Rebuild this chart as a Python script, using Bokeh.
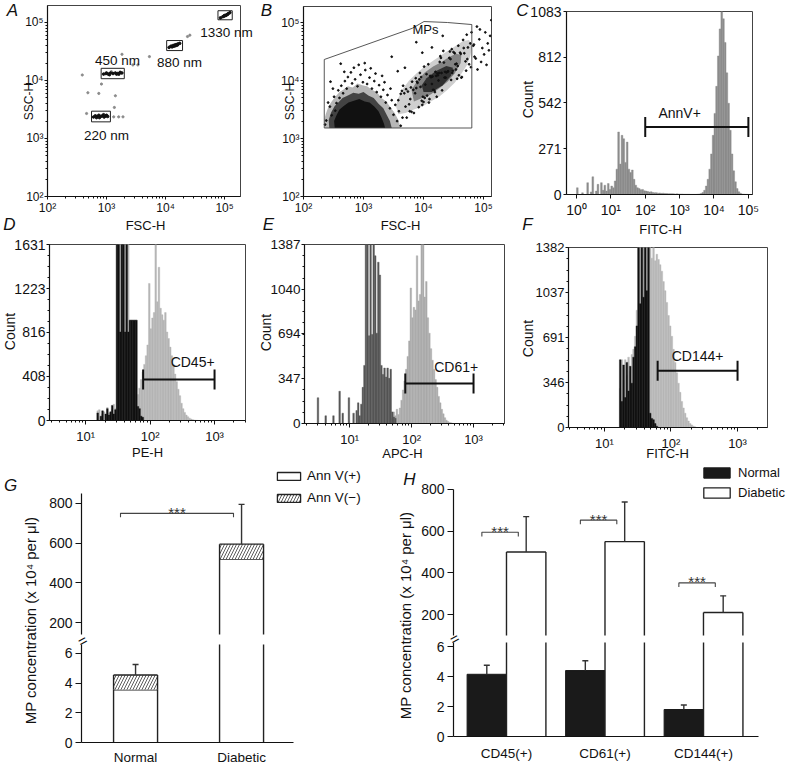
import math
import numpy as np
from bokeh.plotting import figure
from bokeh.models import Range1d, FixedTicker, Label, Legend
from bokeh.layouts import row, column
from bokeh.embed import file_html
from bokeh.resources import INLINE
from bokeh.core.properties import value

FONT = "Liberation Sans"

# ===================== DATA =====================
# --- A: calibration beads (log10 FSC-H, log10 SSC-H)
a_bead_names = ["220 nm", "450 nm", "880 nm", "1330 nm"]
a_gate_fsc = [(2.746, 3.066), (2.909, 3.301), (4.019, 4.288), (4.888, 5.130)]
a_gate_ssc = [(3.287, 3.471), (4.031, 4.210), (4.516, 4.689), (5.047, 5.203)]
a_bead_fsc = [2.78, 2.81, 2.84, 2.87, 2.90, 2.93, 2.96, 2.99, 3.02, 2.88, 2.95, 2.83, 3.00,
              2.95, 2.99, 3.03, 3.07, 3.11, 3.15, 3.19, 3.23, 3.26, 3.05, 3.17, 3.00, 3.21,
              4.06, 4.09, 4.12, 4.15, 4.18, 4.21, 4.24, 4.11, 4.17, 4.20, 4.14,
              4.93, 4.97, 5.00, 5.03, 5.06, 5.09, 4.99, 5.05, 5.02]
a_bead_ssc = [3.37, 3.39, 3.38, 3.40, 3.38, 3.39, 3.37, 3.39, 3.38, 3.36, 3.41, 3.36, 3.40,
              4.11, 4.12, 4.11, 4.13, 4.12, 4.13, 4.12, 4.14, 4.13, 4.10, 4.11, 4.13, 4.11,
              4.57, 4.59, 4.60, 4.61, 4.62, 4.63, 4.64, 4.58, 4.60, 4.61, 4.59,
              5.08, 5.10, 5.12, 5.13, 5.15, 5.17, 5.11, 5.14, 5.12]
a_debris_fsc = [2.589, 2.684, 2.869, 2.914, 3.150, 3.133, 2.662, 3.122, 3.206, 3.279,
                4.372, 4.412, 3.727, 3.447, 3.531, 3.262, 3.082]
a_debris_ssc = [4.095, 3.789, 3.777, 3.939, 3.737, 3.535, 3.431, 3.373, 3.373, 3.373,
                4.758, 4.781, 4.412, 4.268, 4.268, 4.452, 4.152]

# --- B: plasma MPs (log10 FSC-H, log10 SSC-H)
b_gate_fsc = [2.346, 3.813, 4.008, 4.398, 4.805, 4.805, 2.346]
b_gate_ssc = [4.362, 4.900, 5.017, 5.000, 4.965, 3.181, 3.181]
# density contours of the two event clouds (outer, middle, core)
b_cloud1 = [
    ([2.36, 2.34, 2.37, 2.42, 2.47, 2.53, 2.60, 2.66, 2.74, 2.82, 2.90, 2.98, 3.06, 3.14, 3.22, 3.30, 3.38, 3.46, 3.52, 3.58, 3.62],
     [3.18, 3.30, 3.42, 3.56, 3.64, 3.72, 3.80, 3.84, 3.90, 3.88, 3.95, 3.92, 3.90, 3.84, 3.80, 3.70, 3.64, 3.52, 3.44, 3.32, 3.18]),
    ([2.43, 2.42, 2.46, 2.52, 2.58, 2.65, 2.74, 2.83, 2.92, 3.00, 3.08, 3.17, 3.25, 3.33, 3.39, 3.44, 3.47],
     [3.18, 3.32, 3.45, 3.56, 3.62, 3.70, 3.74, 3.79, 3.77, 3.80, 3.74, 3.70, 3.60, 3.52, 3.40, 3.30, 3.18]),
    ([2.52, 2.51, 2.55, 2.60, 2.67, 2.75, 2.84, 2.93, 3.02, 3.10, 3.18, 3.25, 3.30, 3.34, 3.36],
     [3.18, 3.30, 3.40, 3.50, 3.56, 3.62, 3.65, 3.68, 3.64, 3.62, 3.55, 3.47, 3.36, 3.26, 3.18]),
]
b_cloud2 = [
    ([3.58, 3.70, 3.84, 3.98, 4.12, 4.26, 4.40, 4.52, 4.62, 4.72, 4.78, 4.81, 4.76, 4.66, 4.54, 4.42, 4.30, 4.16, 4.02, 3.88, 3.76, 3.66, 3.58, 3.54],
     [3.42, 3.44, 3.50, 3.55, 3.64, 3.72, 3.84, 3.96, 4.10, 4.26, 4.42, 4.58, 4.70, 4.68, 4.60, 4.52, 4.44, 4.34, 4.24, 4.12, 4.00, 3.86, 3.70, 3.56]),
    ([3.84, 3.98, 4.12, 4.26, 4.40, 4.52, 4.62, 4.63, 4.54, 4.42, 4.30, 4.16, 4.02, 3.90, 3.80],
     [3.64, 3.70, 3.76, 3.86, 3.98, 4.12, 4.30, 4.44, 4.46, 4.40, 4.32, 4.24, 4.14, 4.00, 3.84]),
    ([4.00, 4.14, 4.32, 4.46, 4.49, 4.38, 4.20, 4.05, 3.97],
     [3.80, 3.80, 3.92, 4.08, 4.22, 4.25, 4.16, 4.04, 3.92]),
]
b_events = [
    # cloud 1 fringe
    (2.38, 3.31), (2.44, 3.55), (2.36, 3.24), (2.51, 3.72), (2.47, 3.40), (2.58, 3.83), (2.55, 3.61), (2.63, 3.91), (2.60, 3.70), (2.69, 3.99),
    (2.66, 3.78), (2.74, 4.06), (2.72, 3.86), (2.81, 3.95), (2.79, 4.14), (2.86, 4.02), (2.90, 3.90), (2.95, 4.10), (2.99, 3.97), (3.03, 4.18),
    (3.06, 3.94), (3.10, 4.05), (3.14, 3.86), (3.18, 3.99), (3.22, 3.80), (3.26, 3.92), (3.29, 3.72), (3.33, 3.84), (3.37, 3.62), (3.40, 3.75),
    (3.44, 3.52), (3.47, 3.66), (3.50, 3.41), (3.53, 3.58), (3.56, 3.30), (3.59, 3.47), (3.62, 3.22), (3.65, 3.36), (2.41, 3.62), (2.53, 3.48),
    (3.02, 4.30), (2.84, 4.22), (3.20, 4.12), (2.68, 4.15), (3.35, 3.97), (3.45, 3.86), (2.49, 3.86), (3.58, 3.66), (2.92, 4.27), (3.12, 4.21),
    # cloud 2
    (3.62, 3.77), (4.37, 4.05), (3.95, 3.89), (4.71, 4.17), (4.08, 4.28), (3.78, 3.68), (4.52, 4.47), (4.19, 3.80), (3.88, 3.87), (4.64, 4.06),
    (4.29, 4.39), (3.70, 3.55), (4.45, 4.37), (4.02, 3.70), (4.80, 4.83), (3.84, 3.44), (4.24, 4.09), (4.58, 4.60), (3.99, 3.72), (4.13, 4.06),
    (4.76, 4.28), (3.74, 3.81), (4.41, 4.16), (4.33, 4.51), (3.92, 3.54), (4.68, 4.47), (4.05, 4.11), (4.49, 4.17), (3.81, 3.98), (4.22, 3.72),
    (4.61, 4.48), (4.16, 3.84), (3.66, 3.91), (4.55, 4.29), (4.27, 4.32), (3.97, 3.65), (4.74, 4.57), (4.10, 3.68), (4.43, 4.39), (3.86, 3.78),
    (4.35, 4.05), (4.66, 4.70), (4.00, 3.63), (4.20, 4.15), (3.76, 3.59), (4.50, 4.49), (4.31, 3.83), (4.83, 4.60), (3.90, 3.96), (4.14, 3.94),
    (4.40, 4.15), (3.68, 3.78), (4.26, 4.13), (4.79, 4.23), (3.93, 4.02), (4.57, 4.25), (4.11, 4.08), (3.80, 3.46), (4.47, 4.54), (4.70, 4.33),
    (4.03, 3.93), (4.34, 4.31), (3.72, 3.36), (4.62, 4.46), (4.18, 3.83), (3.96, 4.06), (4.53, 4.28), (4.28, 4.42), (4.85, 4.41), (3.83, 3.84),
    (4.09, 3.62), (4.44, 4.50), (4.73, 4.37), (3.89, 3.98), (4.21, 4.08), (4.59, 4.09), (4.01, 4.24), (4.38, 4.14), (4.67, 4.56), (3.77, 3.47),
    (4.15, 4.07), (4.48, 4.13), (3.64, 3.82), (4.30, 4.13), (4.56, 4.03), (3.94, 4.13), (4.06, 3.74), (4.78, 4.64), (4.25, 4.00), (3.87, 4.04),
    (4.63, 4.05), (4.12, 4.06), (4.46, 4.01), (3.79, 3.88), (4.36, 4.15), (4.72, 4.79), (3.98, 3.58), (4.23, 4.12), (4.54, 4.19), (3.71, 3.85),
    # outliers
    (4.87, 4.38), (4.93, 4.71), (4.90, 4.19), (4.98, 4.56), (5.03, 4.83), (4.96, 4.32), (5.07, 4.64), (5.01, 4.45), (5.11, 4.77), (4.89, 4.93),
    (5.05, 4.27), (5.09, 4.52), (5.13, 5.04), (4.84, 4.62), (4.94, 4.88),
    (3.47, 4.41), (3.69, 4.22), (3.31, 4.08), (2.62, 4.29), (3.88, 4.66), (4.14, 4.57), (3.57, 4.16), (2.45, 3.98), (4.32, 4.77), (3.98, 4.48),
]

# --- C: Annexin V histogram (log10 FITC-H bins)
c_bin_start, c_bin_width = 0.0, 0.05
c_counts = [40, 0, 0, 10, 0, 0, 70, 0, 15, 105,
            0, 20, 60, 0, 70, 25, 55, 20, 65, 30,
            50, 40, 80, 150, 370, 180, 350, 330, 190, 310,
            150, 130, 145, 90, 55, 40, 35, 28, 30, 22,
            20, 18, 15, 16, 12, 10, 11, 8, 9, 7,
            8, 6, 6, 5, 5, 5, 4, 3, 4, 3,
            3, 3, 2, 2, 2, 2, 1, 1, 1, 1,
            2, 3, 6, 12, 25, 50, 90, 150, 240, 350,
            480, 640, 820, 980, 1083, 1040, 900, 720, 540, 380,
            240, 140, 75, 35, 16, 7, 3, 2, 1, 1]
c_gate = (1e2, 1e5, 400)
c_gate_name = "AnnV+"

# --- D: CD45 (log10 PE-H bins)
d_bin_start, d_bin_width = 1.15, 0.025
d_isotype = [0, 70, 0, 40, 90, 0, 60, 110, 50, 80, 140, 60, 100, 1700, 1700, 820, 1700, 1700, 820, 1700,
             820, 930, 930, 930, 930, 930, 130, 110, 40, 30, 0]
d_stained = [0, 90, 100, 0, 60, 80, 0, 120, 70, 0,
             100, 150, 110, 1700, 1700, 1700, 1700, 1700, 1700, 1700,
             1700, 930, 930, 930, 930, 930, 240, 300, 380, 450,
             520, 600, 700, 1270, 850, 950, 1000, 1631, 1100, 1420,
             1040, 980, 930, 1000, 820, 760, 680, 600, 520, 430,
             360, 290, 230, 160, 110, 75, 50, 35, 22, 14,
             8, 4, 2, 1, 0, 0, 0]
d_gate = (78, 1000, 380)
d_gate_name = "CD45+"

# --- E: CD61 (log10 APC-H bins)
e_iso_start, e_st_start, e_bin_width = 0.45, 1.65, 0.025
e_isotype = [0, 200, 0, 0, 0, 0, 60, 0, 0, 0,
             0, 60, 0, 0, 0, 250, 0, 80, 0, 0,
             0, 200, 0, 0, 80, 0, 100, 160, 60, 150,
             280, 450, 1450, 1400, 680, 1450, 690, 1450, 1300, 700,
             1250, 1150, 450, 380, 430, 360, 430, 350, 420, 90,
             50, 40, 0]
e_stained = [0, 40, 90, 60, 110, 70, 120, 180, 260, 330,
             420, 520, 640, 1050, 820, 900, 880, 1300, 950, 1000,
             1387, 1387, 980, 1100, 820, 700, 580, 490, 420, 340,
             280, 210, 160, 110, 75, 45, 25, 15, 8, 5,
             2, 0]
e_gate = (79, 1000, 310)
e_gate_name = "CD61+"

# --- F: CD144 (log10 FITC-H bins)
f_bin_start, f_bin_width = 1.20, 0.025
f_isotype = [0, 520, 200, 480, 230, 500, 280, 470, 340, 540,
             620, 780, 1400, 950, 1400, 1000, 1400, 1050, 1400, 110,
             70, 60, 30, 10, 0]
f_stained = [0, 300, 520, 360, 520, 400, 540, 430, 560, 600,
             700, 900, 1400, 1400, 1400, 1400, 1400, 1400, 1400, 1400,
             1300, 1400, 1280, 1330, 1290, 1250, 1200, 1120, 1050, 960,
             860, 780, 700, 600, 500, 420, 340, 270, 200, 150,
             110, 75, 50, 30, 20, 10, 5, 0]
f_gate = (63, 1000, 435)
f_gate_name = "CD144+"

# --- G: MP concentration (x10^4 per ul)
g_groups = ["Normal", "Diabetic"]
g_annv_pos = [3.55, 520]
g_annv_neg = [1.0, 75]
g_err = [0.7, 200]
g_sig_y = 750

# --- H: MP subsets
h_groups = ["CD45(+)", "CD61(+)", "CD144(+)"]
h_normal = [4.15, 4.4, 1.8]
h_normal_err = [0.6, 0.65, 0.3]
h_diabetic = [500, 550, 210]
h_diabetic_err = [170, 190, 80]
h_sig_y = [595, 653, 352]

# ===================== HELPERS =====================
SUP = {0: "\u2070", 1: "\u00b9", 2: "\u00b2", 3: "\u00b3", 4: "\u2074", 5: "\u2075"}
W, H = 787, 767


def decade_overrides(exps):
    return {10 ** e: "10" + SUP[e] for e in exps}


def log_minor(k0, k1):
    return [m * 10.0 ** k for k in range(k0, k1 + 1) for m in range(2, 10)]


class Panel:
    def __init__(self, box, frame, xr, yr, xlog=False, ylog=False, xaxis=True, yaxis=True, outline=True):
        self.box, self.frame, self.xr, self.yr = box, frame, xr, yr
        self.xlog, self.ylog = xlog, ylog
        bx0, by0, bx1, by1 = box
        fx0, fy0, fx1, fy1 = frame
        kw = {}
        if not xaxis:
            kw["x_axis_location"] = None
        if not yaxis:
            kw["y_axis_location"] = None
        p = figure(width=bx1 - bx0, height=by1 - by0,
                   x_range=Range1d(*xr), y_range=Range1d(*yr),
                   x_axis_type="log" if xlog else "linear",
                   y_axis_type="log" if ylog else "linear",
                   min_border_left=fx0 - bx0, min_border_right=bx1 - fx1,
                   min_border_top=fy0 - by0, min_border_bottom=by1 - fy1,
                   output_backend="svg", toolbar_location=None, title=None, **kw)
        p.frame_align = False
        p.grid.visible = False
        p.background_fill_color = "white"
        p.border_fill_color = "white"
        if outline:
            p.outline_line_color = "#444"
            p.outline_line_width = 1
        else:
            p.outline_line_color = None
        self.p = p

    def dx(self, rx):
        fx0, fx1 = self.frame[0], self.frame[2]
        t = (rx - fx0) / (fx1 - fx0)
        if self.xlog:
            a, b = math.log10(self.xr[0]), math.log10(self.xr[1])
            return 10 ** (a + t * (b - a))
        return self.xr[0] + t * (self.xr[1] - self.xr[0])

    def dy(self, ry):
        fy0, fy1 = self.frame[1], self.frame[3]
        t = (fy1 - ry) / (fy1 - fy0)
        if self.ylog:
            a, b = math.log10(self.yr[0]), math.log10(self.yr[1])
            return 10 ** (a + t * (b - a))
        return self.yr[0] + t * (self.yr[1] - self.yr[0])

    def per_px(self):
        return (self.yr[1] - self.yr[0]) / (self.frame[3] - self.frame[1])

    def text(self, rx, ry, s, size, angle=0.0, style="normal", color="#111", align="center", baseline="middle"):
        self.p.add_layout(Label(x=self.dx(rx), y=self.dy(ry), text=s, text_font=FONT,
                                text_font_size=f"{size}px", text_font_style=style, text_color=color,
                                angle=angle, text_align=align, text_baseline=baseline))


def setup_axis(ax, fs, tick_out=4, standoff=2, ticks=None, minor=None, overrides=None, show_ticks=True, bounds=None):
    ax.axis_line_color = "#111"
    ax.axis_line_width = 1.2
    ax.major_tick_in = 0
    ax.major_tick_out = tick_out
    ax.major_tick_line_color = "#111" if show_ticks else None
    ax.minor_tick_in = 0
    ax.minor_tick_out = 2
    ax.minor_tick_line_color = "#111" if minor else None
    ax.major_label_text_font = FONT
    ax.major_label_text_font_size = f"{fs}px"
    ax.major_label_text_color = "#111"
    ax.major_label_standoff = standoff
    if ticks is not None:
        ax.ticker = FixedTicker(ticks=list(ticks), minor_ticks=list(minor) if minor else [])
    if overrides:
        ax.major_label_overrides = overrides
    if bounds is not None:
        ax.bounds = bounds


def hist(panel, start, width, counts, color):
    edges = start + width * np.arange(len(counts) + 1)
    panel.p.quad(left=10 ** edges[:-1], right=10 ** edges[1:], bottom=0, top=counts,
                 fill_color=color, line_color=color, line_width=0.4)


def gate_marker(panel, gate, name, label_x, label_dy, fs):
    lo, hi, lvl = gate
    h = 10 * panel.per_px()
    p = panel.p
    p.segment(x0=[lo], y0=[lvl], x1=[hi], y1=[lvl], line_color="#111", line_width=2)
    p.segment(x0=[lo, hi], y0=[lvl - h, lvl - h], x1=[lo, hi], y1=[lvl + h, lvl + h], line_color="#111", line_width=2)
    p.add_layout(Label(x=label_x, y=lvl, y_offset=label_dy, text=name, text_font=FONT,
                       text_font_size=f"{fs}px", text_align="center", text_baseline="middle", text_color="#111"))


HATCH = dict(hatch_pattern="/", hatch_color="#333", hatch_scale=6, hatch_weight=0.8)


def bars(P, xs, width, bottoms, tops, fill, line, lw=1.4, hatch=False):
    """Bars split over a broken axis: fill only, plus open outlines (sides, top if visible)."""
    lo, hi = P.yr
    sel = [i for i in range(len(xs)) if tops[i] > lo and bottoms[i] < hi]
    if not sel:
        return
    x = [xs[i] for i in sel]
    b = [bottoms[i] for i in sel]
    t = [tops[i] for i in sel]
    kw = HATCH if hatch else {}
    P.p.vbar(x=x, width=width, bottom=b, top=t, fill_color=fill, line_color=None, **kw)
    xl = [v - width / 2 for v in x]
    xr = [v + width / 2 for v in x]
    P.p.segment(x0=xl + xr, y0=b + b, x1=xl + xr, y1=t + t, line_color=line, line_width=lw)
    tops_in = [i for i in range(len(x)) if t[i] < hi]
    if tops_in:
        P.p.segment(x0=[xl[i] for i in tops_in], y0=[t[i] for i in tops_in],
                    x1=[xr[i] for i in tops_in], y1=[t[i] for i in tops_in], line_color=line, line_width=lw)


def legend_swatch(P, xs, width, bottoms, tops, fill, line, lw=1.3, hatch=False):
    kw = HATCH if hatch else {}
    return P.p.vbar(x=xs, width=width, bottom=bottoms, top=tops, fill_color=fill,
                    line_color=line, line_width=lw, visible=False, **kw)


def errbars(P, xs, tops, errs):
    lo, hi = P.yr
    sel = [i for i in range(len(xs)) if tops[i] + errs[i] > lo and tops[i] < hi]
    if not sel:
        return
    x = [xs[i] for i in sel]
    t = [tops[i] for i in sel]
    e = [tops[i] + errs[i] for i in sel]
    P.p.segment(x0=x, y0=t, x1=x, y1=e, line_color="#333", line_width=1.4)
    P.p.scatter(x, e, marker="dash", size=6, line_color="#333", line_width=1.4)


def sig(P, x0s, x1s, ys, drop=20):
    lo, hi = P.yr
    sel = [i for i in range(len(ys)) if lo < ys[i] < hi]
    if not sel:
        return
    P.p.multi_line(xs=[[x0s[i], x0s[i], x1s[i], x1s[i]] for i in sel],
                   ys=[[ys[i] - drop, ys[i], ys[i], ys[i] - drop] for i in sel], line_color="#444", line_width=1.1)
    P.p.text(x=[(x0s[i] + x1s[i]) / 2 for i in sel], y=[ys[i] + 5 for i in sel], text=["***"] * len(sel),
             text_font=value(FONT), text_font_size="15px", text_align="center",
             text_baseline="alphabetic", text_color="#333")


ROT = math.pi / 2

# ===================== ROW 1 =====================
A = Panel((0, 0, 257, 234), (47, 5, 240, 196), (1e2, 10 ** 5.27), (1e2, 10 ** 5.293), xlog=True, ylog=True)
setup_axis(A.p.below[0], 12, 3, 1, [1e2, 1e3, 1e4, 1e5], log_minor(2, 5), decade_overrides([2, 3, 4, 5]))
setup_axis(A.p.left[0], 12, 3, 1, [1e2, 1e3, 1e4, 1e5], log_minor(2, 5), decade_overrides([2, 3, 4, 5]))
for (x0, x1), (y0, y1) in zip(a_gate_fsc, a_gate_ssc):
    A.p.quad(left=[10 ** x0], right=[10 ** x1], bottom=[10 ** y0], top=[10 ** y1],
             fill_color=None, line_color="#222", line_width=1)
A.p.scatter(10 ** np.array(a_debris_fsc), 10 ** np.array(a_debris_ssc), size=2.2, color="#8a8a8a")
A.p.scatter(10 ** np.array(a_bead_fsc), 10 ** np.array(a_bead_ssc), size=2.6, color="#111")

B = Panel((257, 0, 517, 234), (303, 6, 491, 196), (1e2, 10 ** 5.133), (1e2, 10 ** 5.276), xlog=True, ylog=True)
setup_axis(B.p.below[0], 12, 3, 1, [1e2, 1e3, 1e4, 1e5], log_minor(2, 5), decade_overrides([2, 3, 4, 5]))
setup_axis(B.p.left[0], 12, 3, 1, [1e2, 1e3, 1e4, 1e5], log_minor(2, 5), decade_overrides([2, 3, 4, 5]))
for cloud, alphas in ((b_cloud1, (0.3, 0.7, 1.0)), (b_cloud2, (0.2, 0.4, 0.72))):
    for (cx, cy), al in zip(cloud, alphas):
        B.p.patch(10 ** np.array(cx), 10 ** np.array(cy), fill_color="#111", fill_alpha=al, line_color=None)
B.p.scatter(10 ** np.array([e[0] for e in b_events]), 10 ** np.array([e[1] for e in b_events]),
            size=1.8, color="#111")
B.p.patch(10 ** np.array(b_gate_fsc), 10 ** np.array(b_gate_ssc), fill_color=None, line_color="#444", line_width=0.9)
B.text(425, 29, "MPs", 13)

C = Panel((517, 0, 787, 234), (566, 11, 752, 194), (10 ** -0.29, 10 ** 5.12), (0, 1083), xlog=True)
setup_axis(C.p.below[0], 14, 4, 3, [1, 10, 100, 1e3, 1e4, 1e5], None, decade_overrides([0, 1, 2, 3, 4, 5]))
setup_axis(C.p.left[0], 14, 3, 2, [0, 271, 542, 812, 1083])
hist(C, c_bin_start, c_bin_width, c_counts, "#8c8c8c")
gate_marker(C, c_gate, c_gate_name, 10 ** 3.0, 14, 14)


# ===================== ROW 2 =====================
def yminor(top, n=4):
    step = top / 4 / n
    return [step * i for i in range(4 * n + 1)]


D = Panel((0, 234, 258, 460), (49, 244, 245, 420), (10 ** 0.44, 10 ** 3.48), (0, 1631), xlog=True)
setup_axis(D.p.below[0], 13, 4, 4, [10, 100, 1000], log_minor(0, 3), decade_overrides([1, 2, 3]))
setup_axis(D.p.left[0], 14, 3, 1, [0, 408, 816, 1223, 1631], yminor(1631))
hist(D, d_bin_start, d_bin_width, d_stained, "#b5b5b5")
hist(D, d_bin_start, d_bin_width, d_isotype, "#111111")
gate_marker(D, d_gate, d_gate_name, 10 ** 2.66, 17, 14)

E = Panel((258, 234, 518, 460), (304, 244, 504, 423), (10 ** 0.27, 10 ** 3.5), (0, 1387), xlog=True)
setup_axis(E.p.below[0], 13, 4, 4, [10, 100, 1000], log_minor(0, 3), decade_overrides([1, 2, 3]))
setup_axis(E.p.left[0], 13.5, 3, 1, [0, 347, 694, 1040, 1387], yminor(1387))
hist(E, e_st_start, e_bin_width, e_stained, "#ababab")
hist(E, e_iso_start, e_bin_width, e_isotype, "#555555")
gate_marker(E, e_gate, e_gate_name, 10 ** 2.72, 16, 14)

F = Panel((518, 234, 787, 460), (568, 247, 767, 427), (10 ** 0.46, 10 ** 3.45), (0, 1382), xlog=True)
setup_axis(F.p.below[0], 13, 4, 4, [10, 100, 1000], log_minor(0, 3), decade_overrides([1, 2, 3]))
setup_axis(F.p.left[0], 13, 3, 1, [0, 346, 691, 1037, 1382], yminor(1382))
hist(F, f_bin_start, f_bin_width, f_stained, "#b8b8b8")
hist(F, f_bin_start, f_bin_width, f_isotype, "#111111")
gate_marker(F, f_gate, f_gate_name, 10 ** 2.4, 15, 14)

# ===================== ROW 3 =====================
YLAB = "MP concentration (x 10\u2074 per \u03bcl)"
BAR_LINE = "#222"

GL = Panel((0, 460, 42, 767), (0, 460, 42, 767), (0, 42), (0, 307), xaxis=False, yaxis=False, outline=False)
GL.text(10, 485, "G", 17, style="italic")
GL.text(30, 620, YLAB, 15, angle=ROT)

GU = Panel((42, 460, 385, 638), (81, 461, 385, 634), (0.49, 3.358), (140, 1011), xaxis=False, outline=False)
GD = Panel((42, 638, 385, 767), (81, 644, 293, 743), (0.49, 2.49), (0, 6.6), outline=False)
setup_axis(GU.p.left[0], 14, 6, 3, [200, 400, 600, 800], bounds=(140, 850))
setup_axis(GD.p.left[0], 14, 6, 3, [0, 2, 4, 6])
setup_axis(GD.p.below[0], 13.5, 0, 7, [1, 2], None, {i + 1: g for i, g in enumerate(g_groups)}, show_ticks=False)

gx = [i + 1 for i in range(len(g_groups))]
g_tot = [a + b for a, b in zip(g_annv_pos, g_annv_neg)]
for P in (GU, GD):
    bars(P, gx, 0.415, [0] * len(gx), g_annv_pos, "white", BAR_LINE)
    bars(P, gx, 0.415, g_annv_pos, g_tot, "white", BAR_LINE, hatch=True)
    errbars(P, gx, g_tot, g_err)
    sig(P, [gx[0] - 0.142], [gx[1] - 0.076], [g_sig_y])
lg_pos = legend_swatch(GU, gx, 0.415, [0] * len(gx), g_annv_pos, "white", BAR_LINE)
lg_neg = legend_swatch(GU, gx, 0.415, g_annv_pos, g_tot, "white", BAR_LINE, hatch=True)
GU.p.add_layout(Legend(items=[("Ann V(+)", [lg_pos]), ("Ann V(\u2212)", [lg_neg])], location=(193, 129),
                       orientation="vertical", glyph_width=29, glyph_height=10, label_height=10,
                       spacing=7, padding=0, margin=0, label_standoff=4, border_line_color=None,
                       background_fill_alpha=0, label_text_font=FONT, label_text_font_size="13.5px",
                       label_text_color="#111"))

HL = Panel((385, 460, 418, 767), (385, 460, 418, 767), (385, 418), (0, 307), xaxis=False, yaxis=False, outline=False)
HL.text(409, 479, "H", 17, style="italic")
HL.text(405, 615, YLAB, 15, angle=ROT)

HU = Panel((418, 460, 787, 638), (453, 461, 787, 635), (0.462, 3.853), (100, 934), xaxis=False, outline=False)
HD = Panel((418, 638, 787, 767), (453, 642, 758, 736), (0.462, 3.558), (0, 6.27), outline=False)
setup_axis(HU.p.left[0], 14, 6, 3, [200, 400, 600, 800], bounds=(100, 800))
setup_axis(HD.p.left[0], 14, 6, 3, [0, 2, 4, 6])
setup_axis(HD.p.below[0], 13.5, 0, 9, [1, 2, 3], None, {i + 1: g for i, g in enumerate(h_groups)}, show_ticks=False)

hx = [i + 1 for i in range(len(h_groups))]
hxn = [x - 0.2 for x in hx]
hxd = [x + 0.2 for x in hx]
for P in (HU, HD):
    bars(P, hxn, 0.4, [0] * len(hx), h_normal, "#1a1a1a", "#1a1a1a", lw=1.0)
    bars(P, hxd, 0.4, [0] * len(hx), h_diabetic, "white", BAR_LINE)
    errbars(P, hxn, h_normal, h_normal_err)
    errbars(P, hxd, h_diabetic, h_diabetic_err)
    sig(P, [x - 0.25 for x in hx], [x + 0.12 for x in hx], h_sig_y)
lg_n = legend_swatch(HU, hxn, 0.4, [0] * len(hx), h_normal, "#1a1a1a", "#1a1a1a", lw=1.0)
lg_d = legend_swatch(HU, hxd, 0.4, [0] * len(hx), h_diabetic, "white", BAR_LINE)
HU.p.add_layout(Legend(items=[("Normal", [lg_n]), ("Diabetic", [lg_d])], location=(247, 135),
                       orientation="vertical", glyph_width=33, glyph_height=13, label_height=13,
                       spacing=5, padding=0, margin=0, label_standoff=5, border_line_color=None,
                       background_fill_alpha=0, label_text_font=FONT, label_text_font_size="13px",
                       label_text_color="#111"))

# ===================== TEXT OVERLAY (texts lying outside plot frames) =====================
OV = figure(width=W, height=H, x_range=Range1d(0, W), y_range=Range1d(H, 0),
            min_border_left=0, min_border_right=0, min_border_top=0, min_border_bottom=0,
            x_axis_location=None, y_axis_location=None, output_backend="svg",
            toolbar_location=None, title=None)
OV.frame_align = False
OV.grid.visible = False
OV.outline_line_color = None
OV.background_fill_alpha = 0
OV.border_fill_alpha = 0
OV.margin = (-H, 0, 0, 0)


def otext(rx, ry, s, size, angle=0.0, style="normal"):
    OV.add_layout(Label(x=rx, y=ry, text=s, text_font=FONT, text_font_size=f"{size}px",
                        text_font_style=style, text_color="#111", angle=angle,
                        text_align="center", text_baseline="middle"))


for name, (rx, ry) in zip(a_bead_names, [(106, 135), (117, 60), (179, 62), (226, 32)]):
    otext(rx, ry, name, 13.5)
for s, rx, ry in (("A", 12, 10), ("B", 266, 10), ("C", 522, 10), ("D", 9, 224), ("E", 268, 224), ("F", 527, 224)):
    otext(rx, ry, s, 17, style="italic")
for s, rx, ry in (("FSC-H", 145, 225), ("FSC-H", 400, 225), ("FITC-H", 660, 229),
                  ("PE-H", 147, 452), ("APC-H", 402, 453), ("FITC-H", 667, 453)):
    otext(rx, ry, s, 13)
for s, rx, ry, fs in (("SSC-H", 28, 101, 12), ("SSC-H", 289, 101, 12), ("Count", 527, 99, 14),
                      ("Count", 9, 331, 14), ("Count", 265, 332, 14), ("Count", 527, 338, 14)):
    otext(rx, ry, s, fs, angle=ROT)
# axis-break marks
otext(82, 640, "=", 15, angle=0.5)
otext(454, 638, "=", 15, angle=0.5)

main = column(
    row(A.p, B.p, C.p),
    row(D.p, E.p, F.p),
    row(GL.p, column(GU.p, GD.p), HL.p, column(HU.p, HD.p)),
)
layout = column(main, OV)

open("out.html", "w").write(file_html(layout, INLINE))
